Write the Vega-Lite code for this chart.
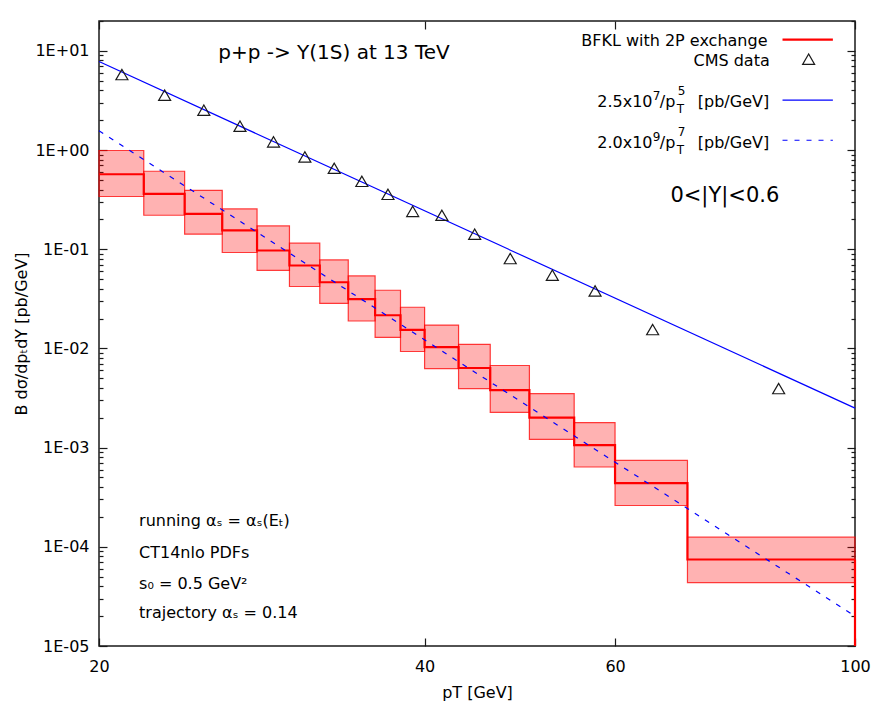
{
  "$schema": "https://vega.github.io/schema/vega-lite/v6.json",
  "width": 756,
  "height": 625,
  "autosize": {"type": "none"},
  "padding": {"left": 99, "top": 21, "right": 31, "bottom": 63},
  "background": "white",
  "config": {
    "view": {"stroke": "#1a1a1a", "strokeWidth": 1.5},
    "font": "DejaVu Sans",
    "text": {"font": "DejaVu Sans", "color": "#000000"},
    "axis": {
      "labelFont": "DejaVu Sans",
      "titleFont": "DejaVu Sans",
      "labelColor": "#000000",
      "titleColor": "#000000",
      "tickColor": "#1a1a1a",
      "tickWidth": 1.2,
      "domain": false,
      "grid": false,
      "titleFontWeight": "normal",
      "labelFontSize": 16,
      "titleFontSize": 16,
      "labelOverlap": false,
      "labelBound": false,
      "labelFlush": false
    }
  },
  "datasets": {
    "bins": [
      {"lo": 20, "hi": 22, "low": 0.34, "c": 0.57, "high": 0.99},
      {"lo": 22, "hi": 24, "low": 0.22, "c": 0.361, "high": 0.611},
      {"lo": 24, "hi": 26, "low": 0.142, "c": 0.227, "high": 0.393},
      {"lo": 26, "hi": 28, "low": 0.0927, "c": 0.155, "high": 0.255},
      {"lo": 28, "hi": 30, "low": 0.0613, "c": 0.0971, "high": 0.172},
      {"lo": 30, "hi": 32, "low": 0.0421, "c": 0.0686, "high": 0.115},
      {"lo": 32, "hi": 34, "low": 0.0284, "c": 0.0465, "high": 0.078},
      {"lo": 34, "hi": 36, "low": 0.0189, "c": 0.0314, "high": 0.0538},
      {"lo": 36, "hi": 38, "low": 0.0129, "c": 0.0216, "high": 0.0386},
      {"lo": 38, "hi": 40, "low": 0.00931, "c": 0.0154, "high": 0.026},
      {"lo": 40, "hi": 43, "low": 0.00627, "c": 0.0103, "high": 0.0172},
      {"lo": 43, "hi": 46, "low": 0.00394, "c": 0.00635, "high": 0.011},
      {"lo": 46, "hi": 50, "low": 0.00227, "c": 0.00379, "high": 0.00673},
      {"lo": 50, "hi": 55, "low": 0.00121, "c": 0.00201, "high": 0.0035},
      {"lo": 55, "hi": 60, "low": 0.000638, "c": 0.00106, "high": 0.00179},
      {"lo": 60, "hi": 70, "low": 0.000261, "c": 0.000438, "high": 0.000742},
      {"lo": 70, "hi": 100, "low": 0.0000436, "c": 0.0000745, "high": 0.000125}
    ],
    "steps": [
      {"pT": 20, "v": 0.57},
      {"pT": 22, "v": 0.361},
      {"pT": 24, "v": 0.227},
      {"pT": 26, "v": 0.155},
      {"pT": 28, "v": 0.0971},
      {"pT": 30, "v": 0.0686},
      {"pT": 32, "v": 0.0465},
      {"pT": 34, "v": 0.0314},
      {"pT": 36, "v": 0.0216},
      {"pT": 38, "v": 0.0154},
      {"pT": 40, "v": 0.0103},
      {"pT": 43, "v": 0.00635},
      {"pT": 46, "v": 0.00379},
      {"pT": 50, "v": 0.00201},
      {"pT": 55, "v": 0.00106},
      {"pT": 60, "v": 0.000438},
      {"pT": 70, "v": 0.0000745},
      {"pT": 100, "v": 0.0000745}
    ],
    "cms": [
      {"pT": 21, "v": 5.77},
      {"pT": 23, "v": 3.57},
      {"pT": 25, "v": 2.52},
      {"pT": 27, "v": 1.74},
      {"pT": 29, "v": 1.21},
      {"pT": 31, "v": 0.851},
      {"pT": 33, "v": 0.655},
      {"pT": 35, "v": 0.484},
      {"pT": 37, "v": 0.358},
      {"pT": 39, "v": 0.241},
      {"pT": 41.5, "v": 0.22},
      {"pT": 44.5, "v": 0.142},
      {"pT": 48, "v": 0.0806},
      {"pT": 52.5, "v": 0.0547},
      {"pT": 57.5, "v": 0.038},
      {"pT": 65, "v": 0.0155},
      {"pT": 85, "v": 0.00394}
    ],
    "fits": [
      {"pT": 20, "v": 7.8125, "fit": "p5"},
      {"pT": 100, "v": 0.0025, "fit": "p5"},
      {"pT": 20, "v": 1.5625, "fit": "p7"},
      {"pT": 100, "v": 0.00002, "fit": "p7"}
    ],
    "one": [{}]
  },
  "resolve": {"axis": {"x": "independent", "y": "independent"}},
  "layer": [
    {
      "data": {"name": "bins"},
      "mark": {"type": "rect", "fill": "#ff0000", "fillOpacity": 0.3, "stroke": "#ff0000", "strokeOpacity": 0.75, "strokeWidth": 1.2},
      "encoding": {
        "x": {
          "field": "lo", "type": "quantitative",
          "scale": {"type": "log", "domain": [20, 100], "nice": false, "zero": false},
          "axis": {"orient": "bottom", "values": [20, 40, 60, 100], "format": "d", "ticks": false, "labelPadding": 12, "title": "pT [GeV]", "titlePadding": 10}
        },
        "x2": {"field": "hi"},
        "y": {
          "field": "low", "type": "quantitative",
          "scale": {"type": "log", "domain": [0.00001, 20], "nice": false, "zero": false},
          "axis": {
            "orient": "left",
            "values": [0.00001, 0.0001, 0.001, 0.01, 0.1, 1, 10],
            "ticks": false,
            "labelPadding": 10,
            "labelExpr": "'1E' + (round(log(datum.value)/LN10) < 0 ? '-' : '+') + '0' + abs(round(log(datum.value)/LN10))",
            "title": "B dσ/dpₜdY [pb/GeV]",
            "titlePadding": 5
          }
        },
        "y2": {"field": "high"}
      }
    },
    {
      "data": {"name": "steps"},
      "mark": {"type": "line", "interpolate": "step-after", "color": "#ff0000", "strokeWidth": 2.2},
      "encoding": {
        "x": {"field": "pT", "type": "quantitative", "axis": {"orient": "bottom", "values": [20, 40, 60, 100], "labels": false, "tickSize": -8, "title": null}},
        "y": {"field": "v", "type": "quantitative", "axis": {"orient": "left", "values": [0.00001, 0.0001, 0.001, 0.01, 0.1, 1, 10], "labels": false, "tickSize": -8, "title": null}}
      }
    },
    {
      "data": {"name": "one"},
      "mark": {"type": "rule", "color": "#ff0000", "strokeWidth": 2.2},
      "encoding": {
        "x": {"datum": 100, "type": "quantitative", "axis": {"orient": "top", "values": [20, 40, 60, 100], "labels": false, "tickSize": -8, "title": null}},
        "y": {"datum": 0.0000745, "type": "quantitative", "axis": {"orient": "right", "values": [0.00001, 0.0001, 0.001, 0.01, 0.1, 1, 10], "labels": false, "tickSize": -8, "title": null}},
        "y2": {"datum": 0.00001}
      }
    },
    {
      "data": {"name": "fits"},
      "transform": [{"filter": "datum.fit === 'p5'"}],
      "mark": {"type": "line", "color": "#0000ff", "strokeWidth": 1.2},
      "encoding": {
        "x": {"field": "pT", "type": "quantitative", "axis": null},
        "y": {"field": "v", "type": "quantitative", "axis": {"orient": "left", "values": [0.00002, 0.00003, 0.00004, 0.00005, 0.00006, 0.00007, 0.00008, 0.00009, 0.0002, 0.0003, 0.0004, 0.0005, 0.0006, 0.0007, 0.0008, 0.0009, 0.002, 0.003, 0.004, 0.005, 0.006, 0.007, 0.008, 0.009, 0.02, 0.03, 0.04, 0.05, 0.06, 0.07, 0.08, 0.09, 0.2, 0.3, 0.4, 0.5, 0.6, 0.7, 0.8, 0.9, 2, 3, 4, 5, 6, 7, 8, 9, 20], "labels": false, "tickSize": -4, "title": null}}
      }
    },
    {
      "data": {"name": "fits"},
      "transform": [{"filter": "datum.fit === 'p7'"}],
      "mark": {"type": "line", "color": "#0000ff", "strokeWidth": 1.2, "strokeDash": [5, 7]},
      "encoding": {
        "x": {"field": "pT", "type": "quantitative", "axis": null},
        "y": {"field": "v", "type": "quantitative", "axis": {"orient": "right", "values": [0.00002, 0.00003, 0.00004, 0.00005, 0.00006, 0.00007, 0.00008, 0.00009, 0.0002, 0.0003, 0.0004, 0.0005, 0.0006, 0.0007, 0.0008, 0.0009, 0.002, 0.003, 0.004, 0.005, 0.006, 0.007, 0.008, 0.009, 0.02, 0.03, 0.04, 0.05, 0.06, 0.07, 0.08, 0.09, 0.2, 0.3, 0.4, 0.5, 0.6, 0.7, 0.8, 0.9, 2, 3, 4, 5, 6, 7, 8, 9, 20], "labels": false, "tickSize": -4, "title": null}}
      }
    },
    {
      "data": {"name": "cms"},
      "mark": {"type": "point", "shape": "triangle-up", "size": 144, "filled": false, "stroke": "#1a1a1a", "strokeWidth": 1.2, "opacity": 1},
      "encoding": {
        "x": {"field": "pT", "type": "quantitative", "axis": null},
        "y": {"field": "v", "type": "quantitative", "axis": null}
      }
    },
    {
      "data": {"name": "one"},
      "mark": {"type": "rule", "color": "#ff0000", "strokeWidth": 2.2},
      "encoding": {
        "x": {"datum": 85.7, "type": "quantitative", "axis": null},
        "x2": {"datum": 95.4},
        "y": {"datum": 13.0, "type": "quantitative", "axis": null}
      }
    },
    {
      "data": {"name": "one"},
      "mark": {"type": "point", "shape": "triangle-up", "size": 144, "filled": false, "stroke": "#1a1a1a", "strokeWidth": 1.2, "opacity": 1},
      "encoding": {
        "x": {"datum": 90.6, "type": "quantitative", "axis": null},
        "y": {"datum": 8.23, "type": "quantitative", "axis": null}
      }
    },
    {
      "data": {"name": "one"},
      "mark": {"type": "rule", "color": "#0000ff", "strokeWidth": 1.2},
      "encoding": {
        "x": {"datum": 85.7, "type": "quantitative", "axis": null},
        "x2": {"datum": 95.4},
        "y": {"datum": 3.18, "type": "quantitative", "axis": null}
      }
    },
    {
      "data": {"name": "one"},
      "mark": {"type": "rule", "color": "#0000ff", "strokeWidth": 1.2, "strokeDash": [5, 7]},
      "encoding": {
        "x": {"datum": 85.7, "type": "quantitative", "axis": null},
        "x2": {"datum": 95.4},
        "y": {"datum": 1.256, "type": "quantitative", "axis": null}
      }
    },
    {
      "data": {"name": "one"},
      "mark": {"type": "text", "text": "BFKL with 2P exchange", "align": "right", "baseline": "middle", "fontSize": 16},
      "encoding": {
        "x": {"datum": 83.0, "type": "quantitative", "axis": null},
        "y": {"datum": 12.56, "type": "quantitative", "axis": null}
      }
    },
    {
      "data": {"name": "one"},
      "mark": {"type": "text", "text": "CMS data", "align": "right", "baseline": "middle", "fontSize": 16},
      "encoding": {
        "x": {"datum": 83.4, "type": "quantitative", "axis": null},
        "y": {"datum": 7.95, "type": "quantitative", "axis": null}
      }
    },
    {
      "data": {"name": "one"},
      "mark": {"type": "text", "text": "2.5x10", "align": "left", "baseline": "middle", "fontSize": 16},
      "encoding": {"x": {"datum": 57.77, "type": "quantitative", "axis": null}, "y": {"datum": 3.03, "type": "quantitative", "axis": null}}
    },
    {
      "data": {"name": "one"},
      "mark": {"type": "text", "text": "7", "align": "left", "baseline": "middle", "fontSize": 12, "dx": 55.5, "dy": -6},
      "encoding": {"x": {"datum": 57.77, "type": "quantitative", "axis": null}, "y": {"datum": 3.03, "type": "quantitative", "axis": null}}
    },
    {
      "data": {"name": "one"},
      "mark": {"type": "text", "text": "/p", "align": "left", "baseline": "middle", "fontSize": 16, "dx": 62.5},
      "encoding": {"x": {"datum": 57.77, "type": "quantitative", "axis": null}, "y": {"datum": 3.03, "type": "quantitative", "axis": null}}
    },
    {
      "data": {"name": "one"},
      "mark": {"type": "text", "text": "5", "align": "left", "baseline": "middle", "fontSize": 12, "dx": 80.5, "dy": -11},
      "encoding": {"x": {"datum": 57.77, "type": "quantitative", "axis": null}, "y": {"datum": 3.03, "type": "quantitative", "axis": null}}
    },
    {
      "data": {"name": "one"},
      "mark": {"type": "text", "text": "T", "align": "left", "baseline": "middle", "fontSize": 12, "dx": 79.5, "dy": 7},
      "encoding": {"x": {"datum": 57.77, "type": "quantitative", "axis": null}, "y": {"datum": 3.03, "type": "quantitative", "axis": null}}
    },
    {
      "data": {"name": "one"},
      "mark": {"type": "text", "text": "[pb/GeV]", "align": "right", "baseline": "middle", "fontSize": 16},
      "encoding": {"x": {"datum": 83.3, "type": "quantitative", "axis": null}, "y": {"datum": 3.03, "type": "quantitative", "axis": null}}
    },
    {
      "data": {"name": "one"},
      "mark": {"type": "text", "text": "2.0x10", "align": "left", "baseline": "middle", "fontSize": 16},
      "encoding": {"x": {"datum": 57.77, "type": "quantitative", "axis": null}, "y": {"datum": 1.18, "type": "quantitative", "axis": null}}
    },
    {
      "data": {"name": "one"},
      "mark": {"type": "text", "text": "9", "align": "left", "baseline": "middle", "fontSize": 12, "dx": 55.5, "dy": -6},
      "encoding": {"x": {"datum": 57.77, "type": "quantitative", "axis": null}, "y": {"datum": 1.18, "type": "quantitative", "axis": null}}
    },
    {
      "data": {"name": "one"},
      "mark": {"type": "text", "text": "/p", "align": "left", "baseline": "middle", "fontSize": 16, "dx": 62.5},
      "encoding": {"x": {"datum": 57.77, "type": "quantitative", "axis": null}, "y": {"datum": 1.18, "type": "quantitative", "axis": null}}
    },
    {
      "data": {"name": "one"},
      "mark": {"type": "text", "text": "7", "align": "left", "baseline": "middle", "fontSize": 12, "dx": 80.5, "dy": -11},
      "encoding": {"x": {"datum": 57.77, "type": "quantitative", "axis": null}, "y": {"datum": 1.18, "type": "quantitative", "axis": null}}
    },
    {
      "data": {"name": "one"},
      "mark": {"type": "text", "text": "T", "align": "left", "baseline": "middle", "fontSize": 12, "dx": 79.5, "dy": 7},
      "encoding": {"x": {"datum": 57.77, "type": "quantitative", "axis": null}, "y": {"datum": 1.18, "type": "quantitative", "axis": null}}
    },
    {
      "data": {"name": "one"},
      "mark": {"type": "text", "text": "[pb/GeV]", "align": "right", "baseline": "middle", "fontSize": 16},
      "encoding": {"x": {"datum": 83.3, "type": "quantitative", "axis": null}, "y": {"datum": 1.18, "type": "quantitative", "axis": null}}
    },
    {
      "data": {"name": "one"},
      "mark": {"type": "text", "text": "p+p -> Y(1S) at 13 TeV", "align": "center", "baseline": "middle", "fontSize": 20},
      "encoding": {
        "x": {"datum": 32.98, "type": "quantitative", "axis": null},
        "y": {"datum": 9.46, "type": "quantitative", "axis": null}
      }
    },
    {
      "data": {"name": "one"},
      "mark": {"type": "text", "text": "0<|Y|<0.6", "align": "center", "baseline": "middle", "fontSize": 21},
      "encoding": {
        "x": {"datum": 75.8, "type": "quantitative", "axis": null},
        "y": {"datum": 0.346, "type": "quantitative", "axis": null}
      }
    },
    {
      "data": {"name": "one"},
      "mark": {"type": "text", "text": "running αₛ = αₛ(Eₜ)", "align": "left", "baseline": "middle", "fontSize": 16},
      "encoding": {
        "x": {"datum": 21.78, "type": "quantitative", "axis": null},
        "y": {"datum": 0.000181, "type": "quantitative", "axis": null}
      }
    },
    {
      "data": {"name": "one"},
      "mark": {"type": "text", "text": "CT14nlo PDFs", "align": "left", "baseline": "middle", "fontSize": 16},
      "encoding": {
        "x": {"datum": 21.78, "type": "quantitative", "axis": null},
        "y": {"datum": 0.0000872, "type": "quantitative", "axis": null}
      }
    },
    {
      "data": {"name": "one"},
      "mark": {"type": "text", "text": "s₀ = 0.5 GeV²", "align": "left", "baseline": "middle", "fontSize": 16},
      "encoding": {
        "x": {"datum": 21.78, "type": "quantitative", "axis": null},
        "y": {"datum": 0.0000425, "type": "quantitative", "axis": null}
      }
    },
    {
      "data": {"name": "one"},
      "mark": {"type": "text", "text": "trajectory αₛ = 0.14", "align": "left", "baseline": "middle", "fontSize": 16},
      "encoding": {
        "x": {"datum": 21.78, "type": "quantitative", "axis": null},
        "y": {"datum": 0.0000217, "type": "quantitative", "axis": null}
      }
    }
  ]
}
